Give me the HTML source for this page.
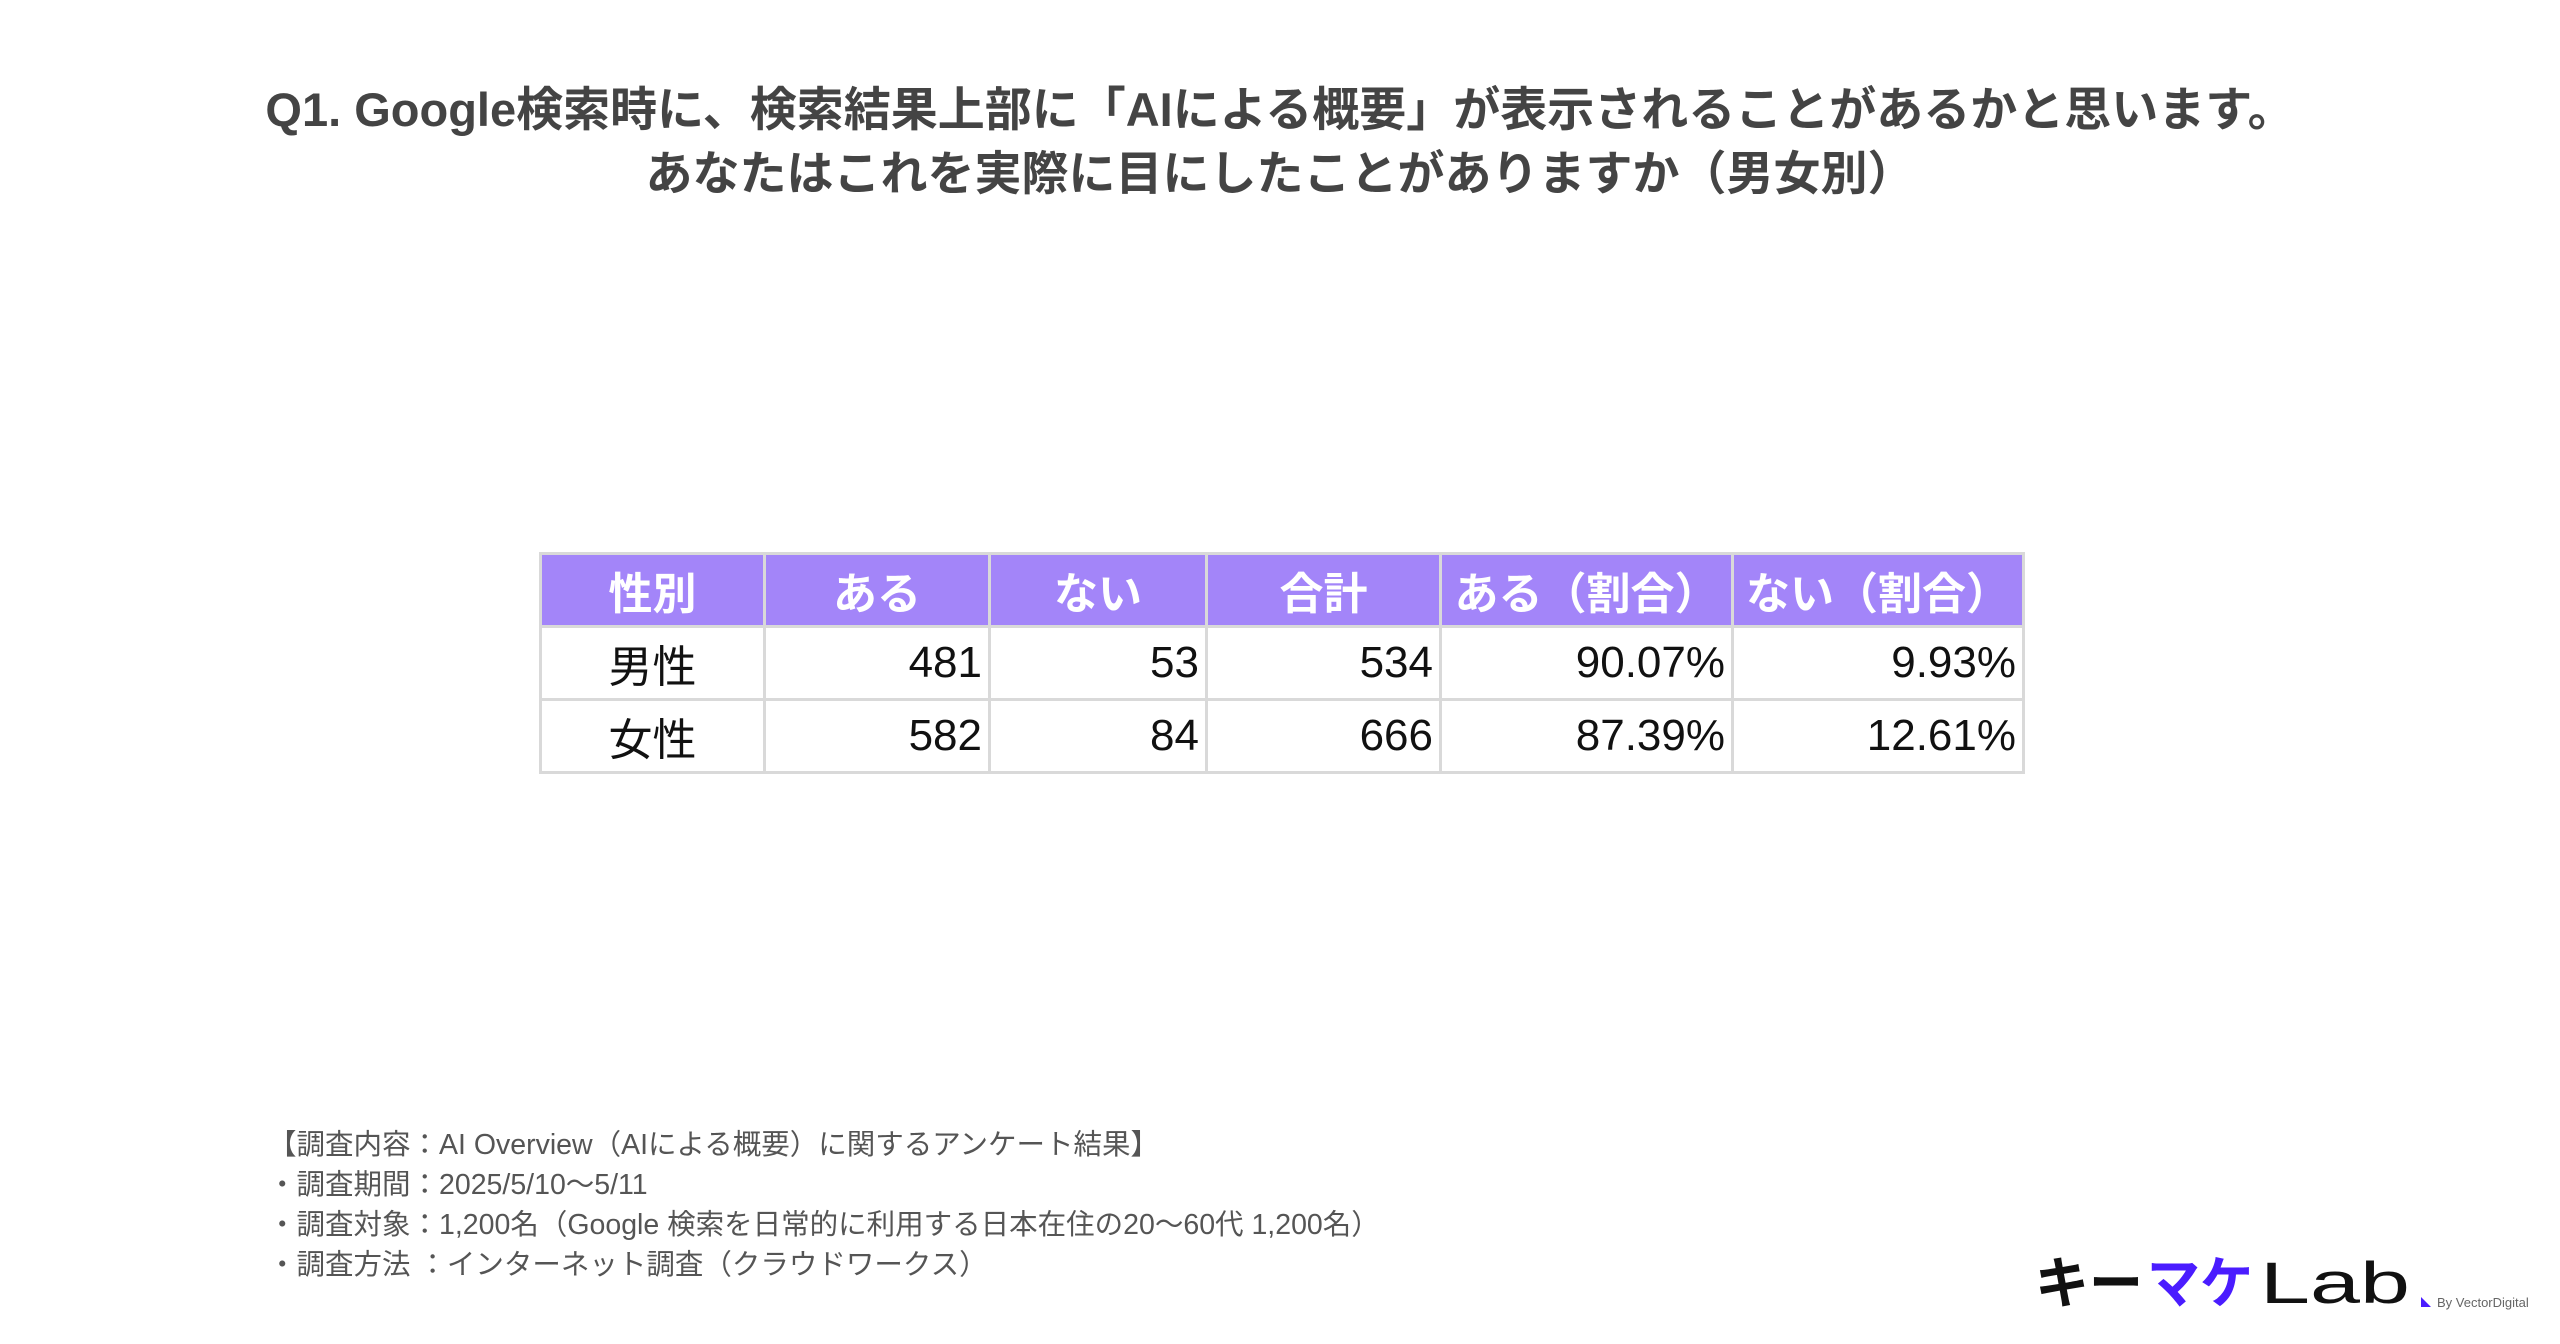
<!DOCTYPE html>
<html><head><meta charset="utf-8">
<style>
html,body{margin:0;padding:0;background:#fff;}
body{width:2560px;height:1344px;position:relative;overflow:hidden;font-family:"Liberation Sans","Noto Sans CJK JP",sans-serif;}
.title{position:absolute;left:0;width:2560px;text-align:center;font-weight:bold;color:#444;font-size:47px;line-height:64px;top:78px;}
table{position:absolute;left:539px;top:552px;border-collapse:collapse;font-size:44px;}
td,th{border:3px solid #d9d9d9;padding:0 6px;height:70px;}
th{background:#a385f9;color:#fff;font-weight:bold;text-align:center;}
td{text-align:right;color:#111;}
td.c{text-align:center;}
.notes{position:absolute;left:268px;top:1125px;font-size:28.5px;color:#555;line-height:40px;}
.logo{position:absolute;left:2035px;top:1255px;}
</style></head>
<body>
<div class="title">Q1. Google検索時に、検索結果上部に「AIによる概要」が表示されることがあるかと思います。<br>あなたはこれを実際に目にしたことがありますか（男女別）</div>
<table>
<colgroup><col style="width:224px"><col style="width:225px"><col style="width:217px"><col style="width:234px"><col style="width:292px"><col style="width:291px"></colgroup>
<tr><th>性別</th><th>ある</th><th>ない</th><th>合計</th><th>ある（割合）</th><th>ない（割合）</th></tr>
<tr><td class="c">男性</td><td>481</td><td>53</td><td>534</td><td>90.07%</td><td>9.93%</td></tr>
<tr><td class="c">女性</td><td>582</td><td>84</td><td>666</td><td>87.39%</td><td>12.61%</td></tr>
</table>
<div class="notes">【調査内容：AI Overview（AIによる概要）に関するアンケート結果】<br>・調査期間：2025/5/10〜5/11<br>・調査対象：1,200名（Google 検索を日常的に利用する日本在住の20〜60代 1,200名）<br>・調査方法 ：インターネット調査（クラウドワークス）</div>
<svg class="logo" width="510" height="60" viewBox="0 0 510 60">
<text x="0" y="48" font-size="56" font-weight="bold" fill="#111" font-family="Liberation Sans, Noto Sans CJK JP, sans-serif" textLength="108" lengthAdjust="spacingAndGlyphs">キー</text>
<text x="112" y="48" font-size="56" font-weight="bold" fill="#4a1cff" font-family="Liberation Sans, Noto Sans CJK JP, sans-serif" textLength="106" lengthAdjust="spacingAndGlyphs">マケ</text>
<text x="225" y="48" font-size="58" fill="#111" font-family="Liberation Sans, sans-serif" textLength="150" lengthAdjust="spacingAndGlyphs">Lab</text>
<polygon points="386,42 386,52 396,52" fill="#4a1cff"/>
<text x="402" y="52" font-size="13" fill="#666" font-family="Liberation Sans, sans-serif">By VectorDigital</text>
</svg>
</body></html>
